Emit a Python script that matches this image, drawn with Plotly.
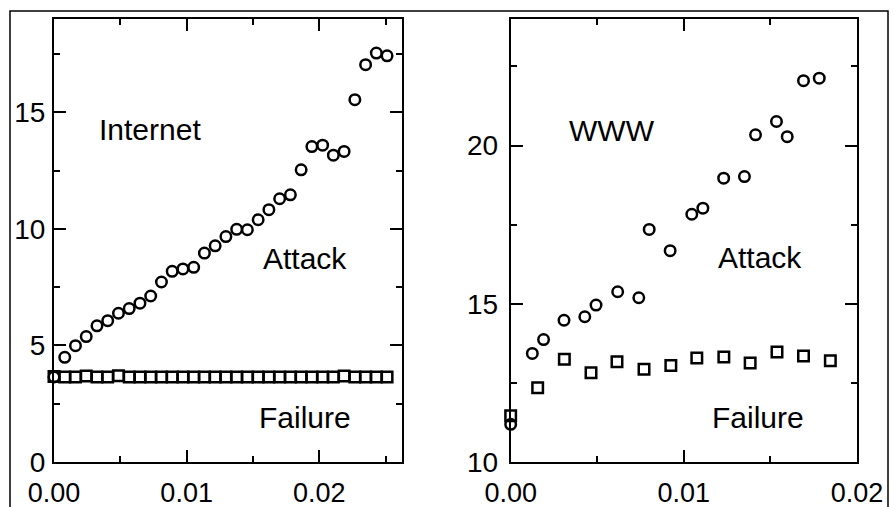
import plotly.graph_objects as go

# Internet: diameter vs. fraction of removed nodes
internet_f = [0, 0.00081, 0.00162, 0.00243, 0.00324, 0.00405, 0.00486, 0.00567,
              0.00648, 0.00729, 0.0081, 0.00891, 0.00972, 0.01053, 0.01134, 0.01215,
              0.01296, 0.01377, 0.01458, 0.01539, 0.0162, 0.01701, 0.01782, 0.01863,
              0.01944, 0.02025, 0.02106, 0.02187, 0.02268, 0.02349, 0.0243, 0.02511]
internet_attack = [3.65, 4.49, 4.99, 5.38, 5.84, 6.06, 6.38, 6.58, 6.81, 7.12, 7.72,
                   8.18, 8.28, 8.35, 8.96, 9.27, 9.67, 9.98, 9.96, 10.39, 10.82, 11.29,
                   11.46, 12.53, 13.53, 13.59, 13.16, 13.32, 15.54, 17.04, 17.54, 17.42]
internet_failure = [3.67, 3.65, 3.65, 3.69, 3.65, 3.65, 3.70, 3.65, 3.65, 3.65, 3.65,
                    3.65, 3.65, 3.65, 3.65, 3.65, 3.65, 3.65, 3.65, 3.65, 3.65, 3.65,
                    3.65, 3.65, 3.65, 3.65, 3.65, 3.69, 3.65, 3.65, 3.65, 3.65]

# WWW
www_attack_f = [0, 0.00125, 0.0019, 0.00308, 0.00428, 0.00493, 0.00618, 0.0074,
                0.0080, 0.00921, 0.01046, 0.0111, 0.0123, 0.0135, 0.01414, 0.01535,
                0.01597, 0.01691, 0.01782]
www_attack = [11.19, 13.43, 13.87, 14.48, 14.59, 14.96, 15.38, 15.19, 17.35, 16.68,
              17.83, 18.02, 18.97, 19.02, 20.34, 20.76, 20.28, 22.05, 22.13]
www_failure_f = [0, 0.00156, 0.0031, 0.00464, 0.00614, 0.0077, 0.00925, 0.01075,
                 0.01231, 0.01383, 0.01538, 0.01691, 0.01846]
www_failure = [11.46, 12.35, 13.25, 12.82, 13.17, 12.93, 13.05, 13.29, 13.32, 13.13,
               13.48, 13.35, 13.20]

FONT = "Liberation Sans, Arial, Helvetica, sans-serif"
MS = 10.5

fig = go.Figure()


def add_series(x, y, symbol, xa, ya):
    fig.add_trace(go.Scatter(
        x=x, y=y, mode="markers", xaxis=xa, yaxis=ya, cliponaxis=False,
        marker=dict(symbol=symbol, size=MS, color="rgba(0,0,0,0)",
                    line=dict(color="black", width=2.5)),
        showlegend=False))


add_series(internet_f, internet_failure, "square", "x", "y")
add_series(internet_f, internet_attack, "circle", "x", "y")
add_series(www_failure_f, www_failure, "square", "x2", "y2")
add_series(www_attack_f, www_attack, "circle", "x2", "y2")

axis_common = dict(showgrid=False, zeroline=False, showline=True, linecolor="black",
                   linewidth=2, mirror="allticks", ticks="inside", ticklen=12,
                   tickwidth=2, tickcolor="black", automargin=False)
minor_common = dict(ticks="inside", ticklen=6, tickwidth=2, tickcolor="black")

fig.update_layout(
    width=894, height=507,
    margin=dict(l=54, r=37, t=19, b=45),
    paper_bgcolor="white", plot_bgcolor="white",
    font=dict(family=FONT, color="black"),
    xaxis=dict(domain=[0, 0.4333], range=[0, 0.02623], tickvals=[0, 0.01, 0.02],
               ticktext=["0.00", "0.01", "0.02"], tickfont=dict(size=27),
               ticklabelstandoff=6,
               minor=dict(dtick=0.005, tick0=0, **minor_common),
               anchor="y", **axis_common),
    yaxis=dict(domain=[0, 1], range=[0, 19], tickvals=[0, 5, 10, 15],
               tickfont=dict(size=28), ticklabelstandoff=1,
               minor=dict(dtick=2.5, tick0=0, **minor_common),
               anchor="x", **axis_common),
    xaxis2=dict(domain=[0.5687, 1], range=[0, 0.02], tickvals=[0, 0.01, 0.02],
                ticktext=["0.00", "0.01", "0.02"], tickfont=dict(size=27),
                ticklabelstandoff=6,
                minor=dict(dtick=0.005, tick0=0, **minor_common),
                anchor="y2", **axis_common),
    yaxis2=dict(domain=[0, 1], range=[10, 24], tickvals=[10, 15, 20],
                tickfont=dict(size=28), ticklabelstandoff=5,
                minor=dict(dtick=2.5, tick0=10, **minor_common),
                anchor="x2", **axis_common),
)

labels = [
    ("Internet", 0.00721, 14.25, "x", "y"),
    ("Attack", 0.0189, 8.71, "x", "y"),
    ("Failure", 0.0189, 1.93, "x", "y"),
    ("WWW", 0.00586, 20.49, "x2", "y2"),
    ("Attack", 0.01441, 16.45, "x2", "y2"),
    ("Failure", 0.0143, 11.42, "x2", "y2"),
]
for text, x, y, xr, yr in labels:
    fig.add_annotation(text=text, x=x, y=y, xref=xr, yref=yr, showarrow=False,
                       font=dict(size=30, family=FONT, color="black"))

# thin outer frame around both panels
fig.add_shape(type="rect", xref="paper", yref="paper",
              x0=(10 - 54) / 803, x1=(888 - 54) / 803,
              y0=-0.3, y1=(462 - 11) / 443,
              line=dict(color="black", width=1.5), layer="below")

fig.write_html("out.html")
